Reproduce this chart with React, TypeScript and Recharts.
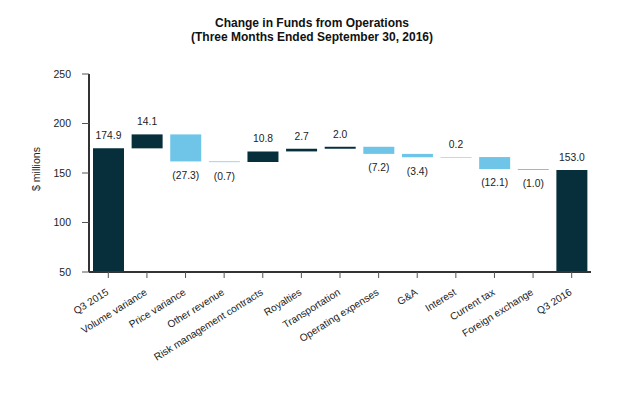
import React from 'react';
import { BarChart, Bar, XAxis, YAxis, Cell } from 'recharts';

const categories = [
  'Q3 2015', 'Volume variance', 'Price variance', 'Other revenue', 'Risk management contracts',
  'Royalties', 'Transportation', 'Operating expenses', 'G&A', 'Interest', 'Current tax',
  'Foreign exchange', 'Q3 2016',
];
const values = [174.9, 14.1, -27.3, -0.7, 10.8, 2.7, 2.0, -7.2, -3.4, 0.2, -12.1, -1.0, 153.0];
const isTotal = [true, false, false, false, false, false, false, false, false, false, false, false, true];
const yTicks = [50, 100, 150, 200, 250];
const Y_MIN = 50;
const Y_MAX = 250;

const DARK = '#062f3b';
const LIGHT = '#6ec5e8';
const FONT = '"Liberation Sans", Arial, sans-serif';

const data = (() => {
  let running = 0;
  return categories.map((name, i) => {
    const v = values[i];
    let range: [number, number];
    if (isTotal[i]) {
      range = [Y_MIN, v];
      running = v;
    } else {
      const next = running + v;
      range = [Math.min(running, next), Math.max(running, next)];
      running = next;
    }
    return { name, range, value: v, total: isTotal[i] };
  });
})();

const fmt = (v: number, total: boolean) =>
  total || v >= 0 ? v.toFixed(1) : `(${Math.abs(v).toFixed(1)})`;

const renderLabel = (props: any) => {
  const { x, y, width, height, index } = props;
  const d = data[index];
  if (!d) return null;
  const top = Math.min(y, y + height);
  const bottom = Math.max(y, y + height);
  const cx = x + width / 2;
  const below = !d.total && d.value < 0;
  return (
    <text
      key={`lbl-${index}`}
      x={cx}
      y={below ? bottom + 10 : top - 9}
      dy={below ? '0.72em' : 0}
      textAnchor="middle"
      fontSize={10.3}
      fill="#222"
      fontFamily={FONT}
    >
      {fmt(d.value, d.total)}
    </text>
  );
};

const AngledTick = (props: any) => {
  const { x, y, payload } = props;
  const px = x + 1;
  const py = y + 11;
  return (
    <text
      x={px}
      y={py}
      transform={`rotate(-32, ${px}, ${py})`}
      textAnchor="end"
      fontSize={10.2}
      fill="#222"
      fontFamily={FONT}
    >
      {payload.value}
    </text>
  );
};

export default function App() {
  return (
    <div style={{ position: 'absolute', left: 0, top: 0, width: 624, height: 400, fontFamily: FONT, background: '#fff' }}>
      <div
        style={{
          position: 'absolute',
          left: 0,
          top: 17,
          width: 624,
          textAlign: 'center',
          fontWeight: 'bold',
          fontSize: 12,
          lineHeight: '13.5px',
          color: '#111',
        }}
      >
        <div>Change in Funds from Operations</div>
        <div>(Three Months Ended September 30, 2016)</div>
      </div>
      <div
        style={{
          position: 'absolute',
          left: 36,
          top: 169,
          transform: 'translate(-50%, -50%) rotate(-90deg)',
          fontSize: 10.5,
          color: '#222',
          whiteSpace: 'nowrap',
        }}
      >
        $ millions
      </div>
      <BarChart
        width={624}
        height={400}
        data={data}
        margin={{ top: 74, right: 33, left: 0, bottom: 0 }}
        barSize={31}
        style={{ fontFamily: FONT }}
      >
        <XAxis
          dataKey="name"
          interval={0}
          height={128}
          tickSize={6}
          tickMargin={5}
          tick={<AngledTick />}
          axisLine={{ stroke: '#333', strokeWidth: 2 }}
          tickLine={{ stroke: '#555' }}
        />
        <YAxis
          width={89}
          domain={[Y_MIN, Y_MAX]}
          ticks={yTicks}
          allowDataOverflow
          tickSize={7}
          tickMargin={11}
          tick={{ fontSize: 10.5, fill: '#222' }}
          axisLine={{ stroke: '#333', strokeWidth: 2 }}
          tickLine={{ stroke: '#555' }}
        />
        <Bar dataKey="range" isAnimationActive={false} label={renderLabel}>
          {data.map((d, i) => (
            <Cell key={i} fill={d.total || d.value >= 0 ? DARK : LIGHT} />
          ))}
        </Bar>
      </BarChart>
    </div>
  );
}
